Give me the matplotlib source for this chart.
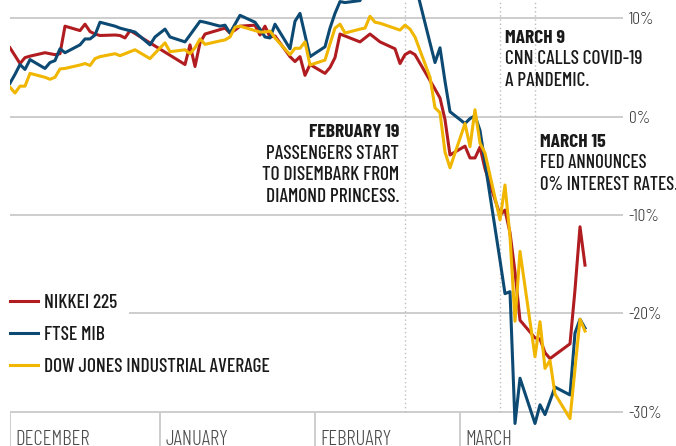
import os
import pandas as pd
import matplotlib
matplotlib.use('Agg')
import matplotlib.pyplot as plt
import matplotlib.dates as mdates
from matplotlib import font_manager as fm

RED = '#b01c1f'
BLUE = '#0d4a73'
YELLOW = '#f0b600'
GRID = '#cdcdcd'

# % change
nikkei_dates = ['2019-12-02', '2019-12-03', '2019-12-04', '2019-12-05', '2019-12-06', '2019-12-09',
                '2019-12-10', '2019-12-11', '2019-12-12', '2019-12-13', '2019-12-16', '2019-12-17',
                '2019-12-18', '2019-12-19', '2019-12-20', '2019-12-23', '2019-12-24', '2019-12-25',
                '2019-12-26', '2019-12-27', '2019-12-30', '2020-01-06', '2020-01-07', '2020-01-08',
                '2020-01-09', '2020-01-10', '2020-01-14', '2020-01-15', '2020-01-16', '2020-01-17',
                '2020-01-20', '2020-01-21', '2020-01-22', '2020-01-23', '2020-01-24', '2020-01-27',
                '2020-01-28', '2020-01-29', '2020-01-30', '2020-01-31', '2020-02-03', '2020-02-04',
                '2020-02-05', '2020-02-06', '2020-02-07', '2020-02-10', '2020-02-12', '2020-02-13',
                '2020-02-14', '2020-02-17', '2020-02-18', '2020-02-19', '2020-02-20', '2020-02-21',
                '2020-02-25', '2020-02-26', '2020-02-27', '2020-02-28', '2020-03-02', '2020-03-03',
                '2020-03-04', '2020-03-05', '2020-03-06', '2020-03-09', '2020-03-10', '2020-03-11',
                '2020-03-12', '2020-03-13', '2020-03-16', '2020-03-17', '2020-03-18', '2020-03-19',
                '2020-03-23', '2020-03-24', '2020-03-25', '2020-03-26']
nikkei = [7.0, 6.2, 5.4, 6.0, 6.15, 6.5,
          6.4, 6.3, 6.4, 9.2, 8.75, 9.4,
          8.65, 8.4, 8.25, 8.3, 8.25, 8.0,
          8.75, 8.45, 7.5, 5.3, 7.3, 5.1,
          7.5, 8.4, 9.0, 8.5, 8.8, 9.2,
          9.3, 8.3, 9.2, 8.1, 8.2, 6.1,
          5.6, 6.1, 4.2, 5.3, 4.4, 5.0,
          6.0, 8.4, 8.2, 7.6, 8.4, 8.0,
          7.6, 6.9, 5.4, 6.3, 6.6, 6.3,
          2.8, 1.9, -0.3, -3.9, -3.0, -4.2,
          -4.2, -3.1, -5.3, -10.0, -9.5, -11.8,
          -15.8, -20.7, -22.5, -22.6, -24.0, -24.6,
          -23.1, -17.6, -11.2, -15.1]

ftse_dates = ['2019-12-02', '2019-12-03', '2019-12-04', '2019-12-05', '2019-12-06', '2019-12-09',
              '2019-12-10', '2019-12-11', '2019-12-12', '2019-12-13', '2019-12-16', '2019-12-17',
              '2019-12-18', '2019-12-19', '2019-12-20', '2019-12-23', '2019-12-24', '2019-12-27',
              '2019-12-30', '2019-12-31', '2020-01-02', '2020-01-03', '2020-01-06', '2020-01-07',
              '2020-01-08', '2020-01-09', '2020-01-10', '2020-01-13', '2020-01-14', '2020-01-15',
              '2020-01-16', '2020-01-17', '2020-01-20', '2020-01-21', '2020-01-22', '2020-01-23',
              '2020-01-24', '2020-01-27', '2020-01-28', '2020-01-29', '2020-01-30', '2020-01-31',
              '2020-02-03', '2020-02-04', '2020-02-05', '2020-02-06', '2020-02-07', '2020-02-10',
              '2020-02-11', '2020-02-12', '2020-02-13', '2020-02-14', '2020-02-17', '2020-02-18',
              '2020-02-19', '2020-02-20', '2020-02-21', '2020-02-24', '2020-02-25', '2020-02-26',
              '2020-02-27', '2020-02-28', '2020-03-02', '2020-03-03', '2020-03-04', '2020-03-05',
              '2020-03-06', '2020-03-09', '2020-03-10', '2020-03-11', '2020-03-12', '2020-03-13',
              '2020-03-16', '2020-03-17', '2020-03-18', '2020-03-19', '2020-03-20', '2020-03-23',
              '2020-03-24', '2020-03-25', '2020-03-26']
ftse = [3.4, 4.3, 5.3, 4.8, 5.8, 4.9,
        5.5, 5.7, 6.9, 6.5, 7.3, 7.9,
        7.9, 8.3, 9.6, 9.2, 9.0, 8.6,
        7.3, 8.1, 8.9, 8.1, 7.6, 8.3,
        9.0, 9.7, 9.6, 9.2, 9.3, 8.5,
        9.4, 10.3, 9.6, 8.9, 8.1, 8.0,
        9.4, 6.9, 9.7, 10.5, 8.3, 6.1,
        7.1, 9.0, 10.5, 11.7, 11.6, 11.8,
        13.0, 14.4, 14.2, 14.8, 15.6, 15.0,
        16.2, 15.4, 13.6, 7.5, 5.5, 7.0,
        3.6, 0.5, -0.7, -0.2, 0.1, -1.4,
        -4.7, -14.6, -18.0, -17.8, -31.2, -26.6,
        -31.2, -29.3, -30.3, -28.9, -27.5, -28.3,
        -22.0, -20.6, -21.5]

dow_dates = ['2019-12-02', '2019-12-03', '2019-12-04', '2019-12-05', '2019-12-06', '2019-12-09',
             '2019-12-10', '2019-12-11', '2019-12-12', '2019-12-13', '2019-12-16', '2019-12-17',
             '2019-12-18', '2019-12-19', '2019-12-20', '2019-12-23', '2019-12-24', '2019-12-26',
             '2019-12-27', '2019-12-30', '2019-12-31', '2020-01-02', '2020-01-03', '2020-01-06',
             '2020-01-07', '2020-01-08', '2020-01-09', '2020-01-10', '2020-01-13', '2020-01-14',
             '2020-01-15', '2020-01-16', '2020-01-17', '2020-01-21', '2020-01-22', '2020-01-23',
             '2020-01-24', '2020-01-27', '2020-01-28', '2020-01-29', '2020-01-30', '2020-01-31',
             '2020-02-03', '2020-02-04', '2020-02-05', '2020-02-06', '2020-02-07', '2020-02-10',
             '2020-02-11', '2020-02-12', '2020-02-13', '2020-02-14', '2020-02-18', '2020-02-19',
             '2020-02-20', '2020-02-21', '2020-02-24', '2020-02-25', '2020-02-26', '2020-02-27',
             '2020-02-28', '2020-03-02', '2020-03-03', '2020-03-04', '2020-03-05', '2020-03-06',
             '2020-03-09', '2020-03-10', '2020-03-11', '2020-03-12', '2020-03-13', '2020-03-16',
             '2020-03-17', '2020-03-18', '2020-03-19', '2020-03-20', '2020-03-23', '2020-03-25',
             '2020-03-26']
dow = [3.0, 2.4, 3.1, 3.1, 4.4, 4.0,
       3.8, 4.0, 4.85, 4.9, 5.25, 5.4,
       5.2, 5.9, 6.1, 6.4, 6.2, 6.6,
       6.8, 5.9, 6.45, 7.5, 6.6, 6.8,
       6.4, 7.0, 7.9, 7.35, 7.7, 7.8,
       8.1, 9.1, 9.2, 8.6, 8.6, 8.7,
       8.0, 6.3, 6.95, 6.95, 7.6, 5.25,
       5.75, 7.4, 9.0, 9.4, 8.5, 8.9,
       9.0, 10.2, 9.6, 9.5, 8.8, 9.3,
       8.9, 8.1, 4.0, 0.9, 0.4, -3.6,
       -5.2, -0.7, -3.05, 0.7, -2.7, -3.7,
       -10.5, -6.95, -12.2, -20.8, -13.7, -24.4,
       -20.85, -25.6, -24.8, -28.2, -30.7, -20.6,
       -21.8]

series_names = ['NIKKEI 225', 'FTSE MIB', 'DOW JONES INDUSTRIAL AVERAGE']

y_ticks = [10, 0, -10, -20, -30]
y_labels = ['10%', '0%', '-10%', '-20%', '-30%']

month_starts = ['2019-12-01', '2020-01-01', '2020-02-01', '2020-03-01']
month_names = ['DECEMBER', 'JANUARY', 'FEBRUARY', 'MARCH']

# the Fed line sits on the next trading day (Monday the 16th)
event_dates = ['2020-02-19', '2020-03-09', '2020-03-16']
event_notes = [['FEBRUARY 19', 'PASSENGERS START', 'TO DISEMBARK FROM', 'DIAMOND PRINCESS.'],
               ['MARCH 9', 'CNN CALLS COVID-19', 'A PANDEMIC.'],
               ['MARCH 15', 'FED ANNOUNCES', '0% INTEREST RATES.']]


def font(fname, size):
    for f in fm.fontManager.ttflist:
        if os.path.basename(f.fname) == fname:
            return fm.FontProperties(fname=f.fname, size=size)
    return fm.FontProperties(family='DejaVu Sans', size=size)


def num(d):
    return mdates.date2num(pd.Timestamp(d))


head_font = font('BarlowCondensed-Bold.ttf', 14)
body_font = font('BarlowCondensed-Medium.ttf', 14)
edge_font = font('BarlowCondensed-Medium.ttf', 13.5)  # last note sits against the right edge
tick_font = font('BarlowCondensed-Light.ttf', 12.5)
month_font = font('BarlowCondensed-Light.ttf', 15)

W, H = 676, 446
fig = plt.figure(figsize=(W / 100, H / 100), dpi=100)
ax = fig.add_axes([10 / W, 0, 613 / W, 1])

x0 = num('2019-12-02')
ax.set_xlim(x0, x0 + 613 / 5.0)
ax.set_ylim(-33.49, 11.86)
for s in ax.spines.values():
    s.set_visible(False)

# grid
for v in y_ticks:
    xmin = 120 / 613 if v == -20 else 0
    ax.axhline(v, xmin=xmin, color=GRID, lw=1.4, zorder=1)

ax.yaxis.tick_right()
ax.set_yticks(y_ticks)
ax.set_yticklabels(y_labels, fontproperties=tick_font, color='#333333')
ax.tick_params(axis='y', length=0, pad=4)
ax.set_xticks([])

# month strip under the -30% line
ylo = ax.get_ylim()[0]
for d, name in zip(month_starts, month_names):
    xd = max(num(d), x0)
    ax.vlines(xd, ylo, -30, color=GRID, lw=1.4, zorder=1)
    ax.annotate(name, xy=(xd, 1 - 445 / H), xycoords=ax.get_xaxis_transform(),
                xytext=(5, 0), textcoords='offset pixels', va='baseline', ha='left',
                fontproperties=month_font, color='#4a4a4a')

ev = [num(d) for d in event_dates]
ax.vlines(ev, -30, 11.86, color='#bdbdbd', lw=1, linestyles=(0, (1, 2)), zorder=1)

l1, = ax.plot(pd.to_datetime(nikkei_dates), nikkei, color=RED, lw=2.2, zorder=3)
l2, = ax.plot(pd.to_datetime(ftse_dates), ftse, color=BLUE, lw=2.2, zorder=3)
l3, = ax.plot(pd.to_datetime(dow_dates), dow, color=YELLOW, lw=2.2, zorder=3)

# notes: (x offset px, alignment, first baseline px from top, body font)
note_pos = [(-6, 'right', 137.3, body_font), (5, 'left', 42.7, body_font),
            (5, 'left', 146.7, edge_font)]
for d, lines, (dx, ha, base, bf) in zip(ev, event_notes, note_pos):
    for i, line in enumerate(lines):
        ax.annotate(line, xy=(d, 1 - (base + i * 21.4) / H), xycoords=ax.get_xaxis_transform(),
                    xytext=(dx, 0), textcoords='offset pixels', ha=ha, va='baseline',
                    fontproperties=head_font if i == 0 else bf, color='#1a1a1a')

leg = ax.legend([l1, l2, l3], series_names, loc='upper left', bbox_to_anchor=(0, 1 - 293.5 / H),
                frameon=False, prop=body_font, handlelength=1.45, handletextpad=0.31,
                labelspacing=0.73, borderaxespad=0, borderpad=0)
for t in leg.get_texts():
    t.set_color('#1a1a1a')

fig.savefig('out.png', dpi=100)
